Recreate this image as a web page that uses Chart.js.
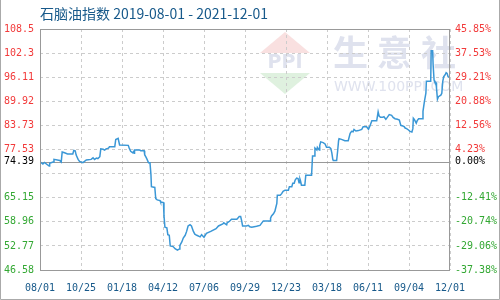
<!DOCTYPE html>
<html>
<head>
<meta charset="utf-8">
<script src="https://cdn.jsdelivr.net/npm/chart.js@4.4.1/dist/chart.umd.min.js"></script>
<style>
  html, body { margin: 0; padding: 0; background: #fff; }
  #wrap { width: 500px; height: 300px; }
</style>
</head>
<body>
<div id="wrap"><canvas id="chart" width="500" height="300"></canvas></div>
<script>
// ── Data (days counted from 2019-08-01) ──────────────────
const TITLE = '石脑油指数 2019-08-01 - 2021-12-01';
const BASE = 74.39;

const xTickDays = [0, 85, 170, 255, 340, 425, 510, 595, 680, 765, 850];
const xLabels   = ['08/01', '10/25', '01/18', '04/12', '07/06', '09/29', '12/23', '03/18', '06/11', '09/04', '12/01'];

const yTicks      = [108.5, 102.3, 96.11, 89.92, 83.73, 77.53, 74.39, 71.34, 65.15, 58.96, 52.77, 46.58];
const yLabels     = ['108.5', '102.3', '96.11', '89.92', '83.73', '77.53', '74.39', '', '65.15', '58.96', '52.77', '46.58'];
const pctLabels   = ['45.85%', '37.53%', '29.21%', '20.88%', '12.56%', '4.23%', '0.00%', '', '-12.41%', '-20.74%', '-29.06%', '-37.38%'];

const days = [
  0, 6, 9, 19, 20, 27, 29, 41, 44, 46, 51, 57, 68, 70, 73, 75, 79, 82, 89, 96,
  106, 110, 113, 117, 120, 124, 126, 131, 134, 137, 142, 144, 155, 157, 162, 165, 183, 185, 188, 192,
  194, 195, 196, 207, 209, 216, 217, 220, 222, 225, 228, 230, 231, 238, 240, 243, 249, 250, 256, 257,
  259, 263, 265, 268, 270, 276, 280, 285, 289, 290, 294, 297, 301, 304, 307, 311, 314, 318, 321, 325,
  332, 335, 340, 345, 354, 365, 370, 379, 381, 387, 388, 393, 397, 408, 410, 413, 416, 418, 420, 428,
  432, 435, 439, 449, 456, 463, 477, 478, 480, 484, 487, 489, 491, 492, 498, 501, 504, 508, 515, 517,
  522, 524, 527, 529, 532, 535, 537, 539, 540, 542, 549, 551, 563, 565, 569, 570, 574, 575, 579, 580,
  582, 587, 591, 594, 600, 603, 605, 607, 608, 615, 617, 619, 620, 625, 632, 639, 643, 646, 649, 651,
  655, 660, 667, 670, 677, 681, 684, 688, 698, 701, 703, 706, 710, 713, 717, 720, 724, 729, 732, 736,
  741, 745, 748, 752, 755, 757, 760, 764, 767, 771, 773, 774, 776, 780, 782, 785, 792, 794, 797, 800,
  801, 810, 811, 814, 815, 817, 818, 821, 822, 824, 826, 831, 833, 835, 837, 840, 842, 844, 846, 849,
  850
];
const prices = [
  74.39, 73.8, 74.2, 73.3, 74.0, 74.3, 75.0, 74.7, 74.3, 76.9, 76.7, 76.4, 76.4, 77.3, 77.2, 76.1, 75.0, 74.5, 74.15, 74.85,
  75.0, 75.4, 75.0, 75.35, 75.2, 75.7, 77.7, 77.6, 77.4, 77.7, 77.9, 78.25, 78.25, 80.1, 80.4, 78.7, 78.6, 77.9, 77.1, 76.7,
  77.0, 76.6, 77.4, 77.4, 77.2, 77.2, 76.2, 75.5, 75.0, 74.15, 74.15, 71.1, 68.0, 67.8, 64.9, 64.6, 64.4, 64.05, 63.9, 60.6,
  57.55, 57.4, 55.65, 55.5, 52.75, 52.6, 52.05, 51.7, 52.0, 52.9, 53.8, 54.8, 55.5, 56.5, 57.9, 58.2, 57.9, 56.5, 55.8, 55.5,
  55.1, 55.65, 55.0, 56.0, 56.5, 57.2, 57.9, 58.4, 58.7, 58.2, 58.7, 59.1, 59.6, 59.6, 59.9, 60.3, 60.3, 59.25, 57.9, 57.9,
  58.05, 57.7, 57.55, 57.8, 58.05, 59.2, 59.2, 59.9, 60.45, 61.0, 61.7, 62.7, 63.7, 65.8, 65.8, 66.2, 66.8, 67.1, 67.1, 68.0,
  68.0, 68.85, 68.85, 69.7, 70.2, 70.05, 69.0, 69.9, 69.5, 68.35, 68.35, 70.9, 70.9, 75.9, 75.9, 77.9, 77.4, 78.1, 77.4, 78.6,
  79.5, 79.3, 78.95, 78.1, 78.1, 77.75, 76.7, 75.0, 74.7, 74.7, 77.1, 79.8, 80.3, 80.15, 79.8, 79.8, 81.7, 82.2, 82.1, 82.7,
  82.3, 82.4, 82.7, 83.4, 83.4, 82.75, 83.6, 84.9, 84.9, 87.2, 86.15, 85.8, 85.8, 85.95, 85.3, 85.8, 86.5, 86.3, 85.8, 85.45,
  85.3, 85.1, 83.75, 83.6, 83.4, 83.05, 82.9, 82.55, 82.2, 82.05, 82.9, 85.6, 85.3, 84.3, 84.95, 85.45, 85.45, 87.35, 89.9, 92.0,
  95.05, 95.05, 102.9, 102.9, 99.3, 95.4, 95.05, 94.7, 93.3, 90.45, 91.1, 91.5, 92.0, 95.05, 96.25, 96.75, 97.3, 97.1, 96.25, 96.1,
  95.7
];

// ── Colours / fonts ─────────────────────────────────────
const RED   = '#f23a3a';
const GREEN = '#33a833';
const BLUE  = '#17598a';
const MONO  = { family: 'DejaVu Sans Mono', size: 10 };

function labelColor(i) {
  const v = yTicks[i];
  if (v === BASE) return '#000';
  return v > BASE ? RED : GREEN;
}

// ── Decorations: title, watermark, frame, base line ──────
const deco = {
  id: 'deco',
  beforeDraw(chart) {
    const ctx = chart.ctx;
    ctx.save();
    ctx.fillStyle = '#fff';
    ctx.fillRect(0, 0, chart.width, chart.height);

    // watermark logo
    ctx.fillStyle = '#f9e0e0';
    ctx.beginPath(); ctx.moveTo(285, 32); ctx.lineTo(310, 53); ctx.lineTo(260, 53); ctx.closePath(); ctx.fill();
    ctx.fillStyle = '#dff1df';
    ctx.beginPath(); ctx.moveTo(260, 73); ctx.lineTo(310, 73); ctx.lineTo(285, 94); ctx.closePath(); ctx.fill();
    ctx.fillStyle = '#dfe2ee';
    ctx.font = 'bold 19px "DejaVu Sans"';
    ctx.textAlign = 'center'; ctx.textBaseline = 'middle';
    ctx.fillText('PPI', 285, 63);
    ctx.font = 'bold 35px "Noto Sans CJK SC"';
    ctx.textAlign = 'left';
    ctx.fillText('生', 333, 53);
    ctx.fillText('意', 377, 53);
    ctx.fillText('社', 421, 53);
    ctx.font = '14px "DejaVu Sans"';
    ctx.fillText('WWW.100PPI.COM', 334, 87);

    // title
    ctx.fillStyle = BLUE;
    ctx.font = '14px "Noto Sans CJK SC"';
    ctx.textAlign = 'left'; ctx.textBaseline = 'middle';
    ctx.fillText(TITLE, 40, 14);

    // outer border
    ctx.strokeStyle = '#aaa';
    ctx.lineWidth = 1;
    ctx.beginPath();
    ctx.moveTo(0.5, 0); ctx.lineTo(0.5, 299.5); ctx.lineTo(499.5, 299.5); ctx.lineTo(499.5, 0);
    ctx.stroke();
    ctx.restore();
  },
  beforeDatasetsDraw(chart) {
    const { ctx, chartArea: a, scales } = chart;
    const y = Math.round(scales.y.getPixelForValue(BASE)) + 0.5;
    ctx.save();
    ctx.strokeStyle = '#999';
    ctx.lineWidth = 1;
    ctx.beginPath(); ctx.moveTo(a.left, y); ctx.lineTo(a.right, y); ctx.stroke();
    ctx.restore();
  },
  afterDatasetsDraw(chart) {
    const { ctx, chartArea: a } = chart;
    ctx.save();
    ctx.strokeStyle = '#999';
    ctx.lineWidth = 1;
    ctx.strokeRect(a.left + 0.5, a.top + 0.5, a.right - a.left - 1, a.bottom - a.top);
    ctx.restore();
  }
};

const points = days.map((d, i) => ({ x: d, y: prices[i] }));

new Chart(document.getElementById('chart'), {
  type: 'line',
  data: {
    datasets: [{
      data: points,
      borderColor: '#3a97d6',
      borderWidth: 1.5,
      pointRadius: 0,
      tension: 0,
      fill: false,
    }]
  },
  options: {
    responsive: false,
    animation: false,
    layout: { padding: { top: 29, left: 0, right: 0, bottom: 0 } },
    plugins: { legend: { display: false }, tooltip: { enabled: false } },
    scales: {
      x: {
        type: 'linear',
        min: 0, max: 850,
        afterBuildTicks: s => { s.ticks = xTickDays.map(v => ({ value: v })); },
        afterFit: s => { s.height = 30; },
        grid: { color: '#cccccc', drawTicks: false },
        border: { display: false, dash: [3, 3] },
        ticks: {
          autoSkip: false, maxRotation: 0, padding: 12,
          color: BLUE, font: MONO,
          callback: (v, i) => xLabels[i],
        },
      },
      y: {
        position: 'left',
        min: 46.58, max: 108.5,
        afterBuildTicks: s => { s.ticks = yTicks.map(v => ({ value: v })); },
        afterFit: s => { s.width = 40; },
        grid: {
          drawTicks: false,
          color: c => (c.tick && c.tick.value === BASE) ? 'rgba(0,0,0,0)' : '#cccccc',
        },
        border: { display: false, dash: [3, 3] },
        ticks: {
          autoSkip: false, padding: 6, font: MONO,
          color: c => labelColor(c.index),
          callback: (v, i) => yLabels[i],
        },
      },
      y2: {
        position: 'right',
        min: 46.58, max: 108.5,
        afterBuildTicks: s => { s.ticks = yTicks.map(v => ({ value: v })); },
        afterFit: s => { s.width = 50; },
        grid: { display: false, drawTicks: false },
        border: { display: false },
        ticks: {
          autoSkip: false, padding: 5, font: MONO,
          color: c => labelColor(c.index),
          callback: (v, i) => pctLabels[i],
        },
      },
    },
  },
  plugins: [deco],
});
</script>
</body>
</html>
